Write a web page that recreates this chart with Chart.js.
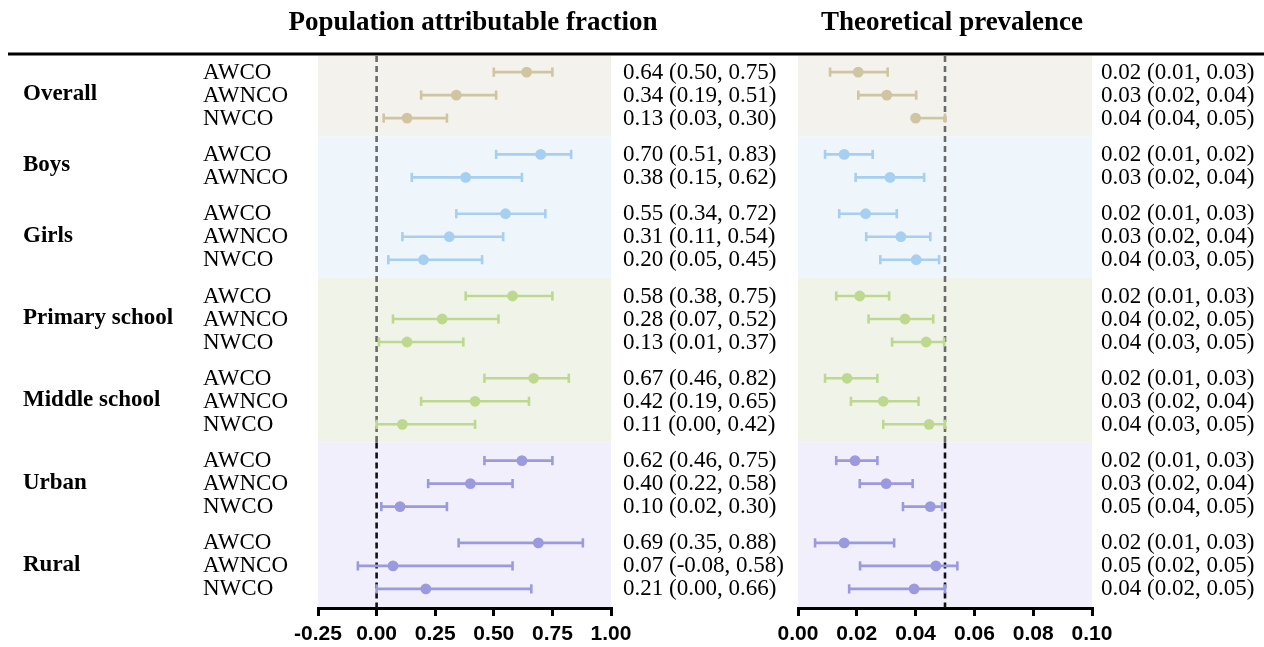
<!DOCTYPE html>
<html><head><meta charset="utf-8">
<script src="https://cdn.jsdelivr.net/npm/chart.js@4/dist/chart.umd.min.js"></script>
<style>
html,body{margin:0;padding:0;background:#fff;}
#wrap{position:relative;width:1264px;height:647px;overflow:hidden;}
#wrap canvas{position:absolute;left:0;top:0;}
</style></head><body>
<div id="wrap"><canvas id="c1"></canvas><canvas id="c2"></canvas></div>
<script>
// ---------- DATA ----------
const groups = ['Overall', 'Boys', 'Girls', 'Primary school', 'Middle school', 'Urban', 'Rural'];
const groupSizes = [3, 2, 3, 3, 3, 3, 3];
const subgroups = ['AWCO','AWNCO','NWCO', 'AWCO','AWNCO', 'AWCO','AWNCO','NWCO',
  'AWCO','AWNCO','NWCO', 'AWCO','AWNCO','NWCO', 'AWCO','AWNCO','NWCO', 'AWCO','AWNCO','NWCO'];

// Population attributable fraction
const pafEst  = [0.64, 0.34, 0.13, 0.70, 0.38, 0.55, 0.31, 0.20, 0.58, 0.28, 0.13, 0.67, 0.42, 0.11, 0.62, 0.40, 0.10, 0.69, 0.07, 0.21];
const pafLow  = [0.50, 0.19, 0.03, 0.51, 0.15, 0.34, 0.11, 0.05, 0.38, 0.07, 0.01, 0.46, 0.19, 0.00, 0.46, 0.22, 0.02, 0.35, -0.08, 0.00];
const pafHigh = [0.75, 0.51, 0.30, 0.83, 0.62, 0.72, 0.54, 0.45, 0.75, 0.52, 0.37, 0.82, 0.65, 0.42, 0.75, 0.58, 0.30, 0.88, 0.58, 0.66];
const pafText = ['0.64 (0.50, 0.75)','0.34 (0.19, 0.51)','0.13 (0.03, 0.30)','0.70 (0.51, 0.83)','0.38 (0.15, 0.62)',
  '0.55 (0.34, 0.72)','0.31 (0.11, 0.54)','0.20 (0.05, 0.45)','0.58 (0.38, 0.75)','0.28 (0.07, 0.52)','0.13 (0.01, 0.37)',
  '0.67 (0.46, 0.82)','0.42 (0.19, 0.65)','0.11 (0.00, 0.42)','0.62 (0.46, 0.75)','0.40 (0.22, 0.58)','0.10 (0.02, 0.30)',
  '0.69 (0.35, 0.88)','0.07 (-0.08, 0.58)','0.21 (0.00, 0.66)'];
const pafTicks = [-0.25, 0.00, 0.25, 0.50, 0.75, 1.00];

// Theoretical prevalence
const tpEst  = [0.0205, 0.0302, 0.0400, 0.0157, 0.0313, 0.0230, 0.0350, 0.0402, 0.0210, 0.0364, 0.0436, 0.0167, 0.0290, 0.0446, 0.0194, 0.0300, 0.0450, 0.0157, 0.0469, 0.0395];
const tpLow  = [0.0109, 0.0205, 0.0400, 0.0092, 0.0196, 0.0140, 0.0232, 0.0280, 0.0130, 0.0240, 0.0320, 0.0092, 0.0180, 0.0290, 0.0130, 0.0210, 0.0357, 0.0058, 0.0211, 0.0174];
const tpHigh = [0.0305, 0.0402, 0.0500, 0.0254, 0.0429, 0.0336, 0.0450, 0.0480, 0.0310, 0.0460, 0.0497, 0.0270, 0.0410, 0.0500, 0.0270, 0.0390, 0.0490, 0.0327, 0.0542, 0.0500];
const tpText = ['0.02 (0.01, 0.03)','0.03 (0.02, 0.04)','0.04 (0.04, 0.05)','0.02 (0.01, 0.02)','0.03 (0.02, 0.04)',
  '0.02 (0.01, 0.03)','0.03 (0.02, 0.04)','0.04 (0.03, 0.05)','0.02 (0.01, 0.03)','0.04 (0.02, 0.05)','0.04 (0.03, 0.05)',
  '0.02 (0.01, 0.03)','0.03 (0.02, 0.04)','0.04 (0.03, 0.05)','0.02 (0.01, 0.03)','0.03 (0.02, 0.04)','0.05 (0.04, 0.05)',
  '0.02 (0.01, 0.03)','0.05 (0.02, 0.05)','0.04 (0.02, 0.05)'];
const tpTicks = [0.00, 0.02, 0.04, 0.06, 0.08, 0.10];

// ---------- STYLE / LAYOUT ----------
const W = 1264, H = 647;
const GAP = 1.578;
const bandOfGroup = [0, 1, 1, 2, 2, 3, 3];
const bandFill = ['#f3f2ed', '#eef6fb', '#eff3e8', '#f1effb'];
const bandMark = ['#cfc6a1', '#a6cff1', '#bed98f', '#9c9ade'];
const SERIF = '"Liberation Serif", "Times New Roman", serif';
const SANS = '"Liberation Sans", Arial, sans-serif';

const positions = [], rowGroup = [];
(function(){ let p = 0; groupSizes.forEach((n, g) => { for (let k = 0; k < n; k++) { positions.push(p); rowGroup.push(g); p += 1; } p += GAP - 1; }); })();
const lastPos = positions[positions.length - 1];
const rowBand = rowGroup.map(g => bandOfGroup[g]);

function makeChart(canvasId, cfg) {
  const cv = document.getElementById(canvasId);
  cv.width = W; cv.height = H; cv.style.width = W + 'px'; cv.style.height = H + 'px';
  const datasets = [];
  // dots first (drawn on top)
  for (let b = 0; b < 4; b++) {
    const pts = [];
    cfg.est.forEach((v, i) => { if (rowBand[i] === b) pts.push({ x: v, y: positions[i] }); });
    datasets.push({ type: 'scatter', data: pts, pointRadius: 5.4, pointHoverRadius: 5.4, pointBackgroundColor: bandMark[b], pointBorderWidth: 0, showLine: false });
  }
  cfg.est.forEach((v, i) => {
    const c = bandMark[rowBand[i]];
    datasets.push({ type: 'line', data: [{ x: cfg.low[i], y: positions[i] }, { x: cfg.high[i], y: positions[i] }],
      borderColor: c, borderWidth: 2.6, pointStyle: 'line', pointRotation: 90, pointRadius: 4.6, pointHoverRadius: 4.6,
      pointBorderColor: c, pointBorderWidth: 2.6, fill: false, tension: 0 });
  });

  const plugin = {
    id: 'decor' + canvasId,
    beforeDraw(chart) {
      const { ctx, chartArea: a, scales: { y } } = chart;
      ctx.save();
      for (let b = 0; b < 4; b++) {
        const idx = rowBand.map((rb, i) => rb === b ? i : -1).filter(i => i >= 0);
        const top = b === 0 ? a.top : y.getPixelForValue(positions[idx[0]] - GAP / 2);
        const bot = b === 3 ? a.bottom : y.getPixelForValue(positions[idx[idx.length - 1]] + GAP / 2);
        ctx.fillStyle = bandFill[b];
        ctx.fillRect(a.left, top, a.right - a.left, bot - top);
      }
      ctx.restore();
    },
    beforeDatasetsDraw(chart) {
      const { ctx, chartArea: a, scales: { x, y } } = chart;
      const px = x.getPixelForValue(cfg.ref);
      const idx = rowBand.map((rb, i) => rb === 3 ? i : -1).filter(i => i >= 0);
      const split = y.getPixelForValue(positions[idx[0]] - GAP / 2);
      ctx.save();
      ctx.lineWidth = 2.6;
      ctx.setLineDash([6, 4]);
      ctx.strokeStyle = '#6a6a6a';
      ctx.beginPath(); ctx.moveTo(px, a.top); ctx.lineTo(px, split); ctx.stroke();
      ctx.strokeStyle = '#111';
      ctx.beginPath(); ctx.moveTo(px, split); ctx.lineTo(px, a.bottom); ctx.stroke();
      ctx.restore();
    },
    afterDraw(chart) {
      const { ctx, scales: { y } } = chart;
      ctx.save();
      ctx.fillStyle = '#000';
      // title
      ctx.font = 'bold 27px ' + SERIF;
      ctx.textAlign = 'center'; ctx.textBaseline = 'middle';
      ctx.fillText(cfg.title, cfg.titleX, 23);
      if (cfg.drawRowLabels) {
        // top rule
        ctx.strokeStyle = '#000'; ctx.lineWidth = 3;
        ctx.beginPath(); ctx.moveTo(8, 54); ctx.lineTo(W, 54); ctx.stroke();
        ctx.textAlign = 'left';
        ctx.font = 'bold 23px ' + SERIF;
        let start = 0;
        groups.forEach((g, gi) => {
          const n = groupSizes[gi];
          const mid = (positions[start] + positions[start + n - 1]) / 2;
          ctx.fillText(g, 23, y.getPixelForValue(mid) - 1);
          start += n;
        });
        ctx.font = '23px ' + SERIF;
        subgroups.forEach((s, i) => ctx.fillText(s, 203, y.getPixelForValue(positions[i]) + 0.5));
      }
      ctx.textAlign = 'left';
      ctx.font = '23px ' + SERIF;
      cfg.text.forEach((t, i) => ctx.fillText(t, cfg.textX, y.getPixelForValue(positions[i]) + 0.5));
      ctx.restore();
    }
  };

  return new Chart(cv, {
    type: 'scatter',
    data: { datasets },
    options: {
      responsive: false, animation: false, events: [],
      layout: { padding: { left: cfg.left, right: W - cfg.right, top: 56, bottom: 1 } },
      plugins: { legend: { display: false }, tooltip: { enabled: false }, title: { display: false } },
      scales: {
        x: {
          type: 'linear', min: cfg.ticks[0], max: cfg.ticks[cfg.ticks.length - 1],
          afterBuildTicks: (s) => { s.ticks = cfg.ticks.map(v => ({ value: v })); },
          afterFit: (s) => { s.height = 38; },
          ticks: { autoSkip: false, maxRotation: 0, padding: 6, color: '#000',
            font: { family: SANS, weight: 'bold', size: 21 }, callback: (v) => Number(v).toFixed(2) },
          grid: { drawOnChartArea: false, drawTicks: true, tickLength: 8, color: '#000', lineWidth: 3 },
          border: { display: true, color: '#000', width: 3 }
        },
        y: { type: 'linear', display: false, reverse: true, min: -0.7, max: lastPos + 0.83 }
      }
    },
    plugins: [plugin]
  });
}

makeChart('c1', { est: pafEst, low: pafLow, high: pafHigh, text: pafText, ticks: pafTicks, ref: 0,
  left: 318, right: 611, textX: 623, title: 'Population attributable fraction', titleX: 473, drawRowLabels: true });
makeChart('c2', { est: tpEst, low: tpLow, high: tpHigh, text: tpText, ticks: tpTicks, ref: 0.05,
  left: 798, right: 1092, textX: 1101, title: 'Theoretical prevalence', titleX: 952, drawRowLabels: false });
</script>
</body></html>
